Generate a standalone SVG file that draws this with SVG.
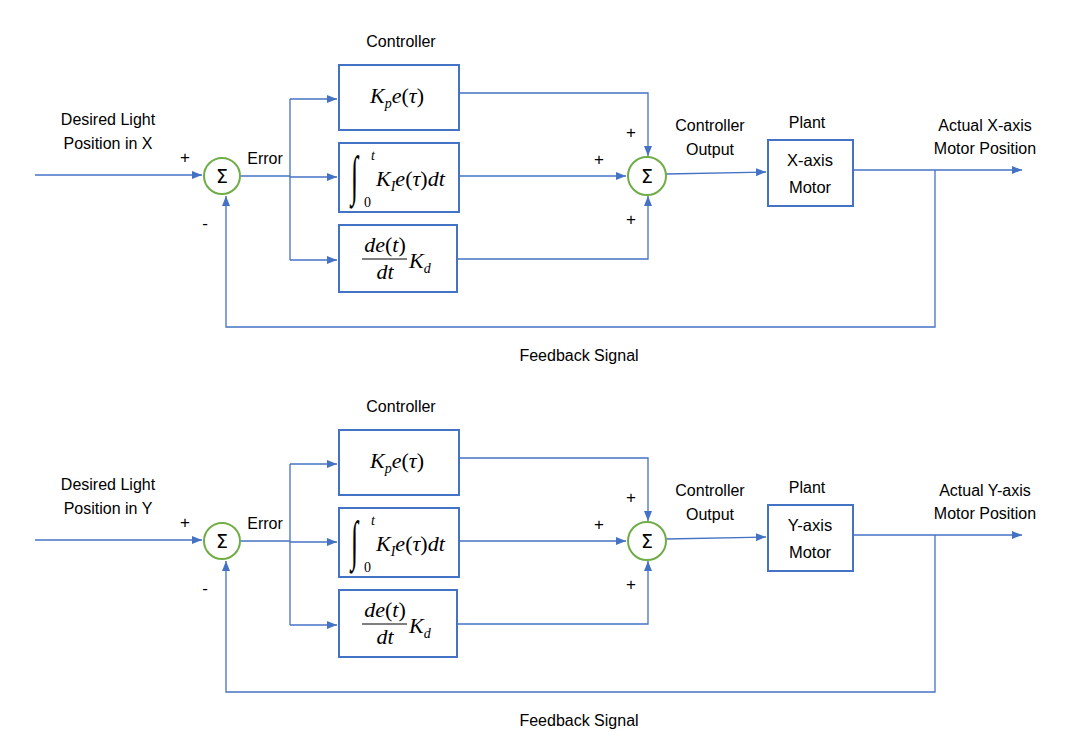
<svg xmlns="http://www.w3.org/2000/svg" width="1074" height="733" viewBox="0 0 1074 733">
<defs>
<marker id="ah" markerWidth="10" markerHeight="8" refX="10" refY="4" orient="auto" markerUnits="userSpaceOnUse">
<path d="M0,0 L10,4 L0,8 Z" fill="#4472C4"/>
</marker>
<style>
.ln{fill:none;stroke:#4472C4;stroke-width:1.3}
.bx{fill:#fff;stroke:#4472C4;stroke-width:2}
.sm{fill:#fff;stroke:#70AD47;stroke-width:2}
.t{font-family:"Liberation Sans","Open Sans",sans-serif;font-size:16px;fill:#000;text-anchor:middle}
.pl{font-family:"Liberation Sans",sans-serif;font-size:17px;fill:#000;text-anchor:middle}
.tb{font-family:"Liberation Sans","Open Sans",sans-serif;font-size:16.5px;fill:#000;text-anchor:middle}
.sg{font-family:"DejaVu Sans",sans-serif;font-size:19px;fill:#000;text-anchor:middle}
.m{font-family:"Liberation Serif",serif;font-style:italic;font-size:22px;fill:#000}
.mu{font-style:normal}
.ms{font-family:"Liberation Serif",serif;font-style:italic;font-size:14px;fill:#000}
.z{font-family:"Liberation Serif",serif;font-style:normal;font-size:14px;fill:#000}
.ig{font-family:"Liberation Serif",serif;font-style:italic;font-size:26px;fill:#000}
</style>
</defs>
<rect width="1074" height="733" fill="#fff"/>

<g id="x-loop">
<g id="x-connectors">
<path class="ln" d="M35,175 H202" marker-end="url(#ah)"/>
<path class="ln" d="M240,176 H290"/>
<path class="ln" d="M290,99 V260"/>
<path class="ln" d="M290,99 H337" marker-end="url(#ah)"/>
<path class="ln" d="M290,177 H337" marker-end="url(#ah)"/>
<path class="ln" d="M290,260 H337" marker-end="url(#ah)"/>
<path class="ln" d="M459,93 H648 V156" marker-end="url(#ah)"/>
<path class="ln" d="M459,176 H626" marker-end="url(#ah)"/>
<path class="ln" d="M457,259 H648 V196" marker-end="url(#ah)"/>
<path class="ln" d="M666,174 L766,172" marker-end="url(#ah)"/>
<path class="ln" d="M853,170 H1022" marker-end="url(#ah)"/>
<path class="ln" d="M935,170 V327 H226 V196" marker-end="url(#ah)"/>
</g>
<g id="x-sum1"><circle class="sm" cx="222" cy="176" r="18"/><text class="sg" x="222" y="183">Σ</text></g>
<g id="x-p"><rect class="bx" x="339" y="65" width="120" height="65"/>
<text class="m" x="370" y="103">K<tspan class="ms" dy="5">p</tspan><tspan dy="-5">e</tspan><tspan class="mu">(</tspan>τ<tspan class="mu">)</tspan></text></g>
<g id="x-i"><rect class="bx" x="339" y="143" width="120" height="69"/>
<text class="ig" transform="translate(351,194) scale(1,2.1)">∫</text>
<text class="ms" x="371" y="160">t</text>
<text class="z" x="364" y="207">0</text>
<text class="m" x="376" y="186">K<tspan class="ms" dy="5">I</tspan><tspan dy="-5">e</tspan><tspan class="mu">(</tspan>τ<tspan class="mu">)</tspan>dt</text></g>
<g id="x-d"><rect class="bx" x="339" y="225" width="118" height="67"/>
<text class="m" x="385" y="252" text-anchor="middle">de<tspan class="mu">(</tspan>t<tspan class="mu">)</tspan></text>
<line x1="362" y1="259" x2="407" y2="259" stroke="#000" stroke-width="1"/>
<text class="m" x="385" y="279" text-anchor="middle">dt</text>
<text class="m" x="409" y="268">K<tspan class="ms" dy="5">d</tspan></text></g>
<g id="x-sum2"><circle class="sm" cx="647" cy="176" r="19"/><text class="sg" x="647" y="183">Σ</text></g>
<g id="x-plant"><rect class="bx" x="768" y="140" width="85" height="66"/>
<text class="tb" x="810" y="166">X-axis</text><text class="tb" x="810" y="193">Motor</text></g>
<g id="x-labels">
<text class="t" x="108" y="125">Desired Light</text>
<text class="t" x="108" y="149">Position in X</text>
<text class="t" x="401" y="47">Controller</text>
<text class="pl" x="185" y="163">+</text>
<text class="pl" x="205" y="229">-</text>
<text class="t" x="265" y="164">Error</text>
<text class="pl" x="631" y="138">+</text>
<text class="pl" x="599" y="165">+</text>
<text class="pl" x="631" y="225">+</text>
<text class="t" x="710" y="131">Controller</text>
<text class="t" x="710" y="155">Output</text>
<text class="t" x="807" y="128">Plant</text>
<text class="t" x="985" y="131">Actual X-axis</text>
<text class="t" x="985" y="154">Motor Position</text>
<text class="t" x="579" y="361">Feedback Signal</text>
</g>
</g>

<g id="y-loop" transform="translate(0,365)">
<g id="y-connectors">
<path class="ln" d="M35,175 H202" marker-end="url(#ah)"/>
<path class="ln" d="M240,176 H290"/>
<path class="ln" d="M290,99 V260"/>
<path class="ln" d="M290,99 H337" marker-end="url(#ah)"/>
<path class="ln" d="M290,177 H337" marker-end="url(#ah)"/>
<path class="ln" d="M290,260 H337" marker-end="url(#ah)"/>
<path class="ln" d="M459,93 H648 V156" marker-end="url(#ah)"/>
<path class="ln" d="M459,176 H626" marker-end="url(#ah)"/>
<path class="ln" d="M457,259 H648 V196" marker-end="url(#ah)"/>
<path class="ln" d="M666,174 L766,172" marker-end="url(#ah)"/>
<path class="ln" d="M853,170 H1022" marker-end="url(#ah)"/>
<path class="ln" d="M935,170 V327 H226 V196" marker-end="url(#ah)"/>
</g>
<g id="y-sum1"><circle class="sm" cx="222" cy="176" r="18"/><text class="sg" x="222" y="183">Σ</text></g>
<g id="y-p"><rect class="bx" x="339" y="65" width="120" height="65"/>
<text class="m" x="370" y="103">K<tspan class="ms" dy="5">p</tspan><tspan dy="-5">e</tspan><tspan class="mu">(</tspan>τ<tspan class="mu">)</tspan></text></g>
<g id="y-i"><rect class="bx" x="339" y="143" width="120" height="69"/>
<text class="ig" transform="translate(351,194) scale(1,2.1)">∫</text>
<text class="ms" x="371" y="160">t</text>
<text class="z" x="364" y="207">0</text>
<text class="m" x="376" y="186">K<tspan class="ms" dy="5">I</tspan><tspan dy="-5">e</tspan><tspan class="mu">(</tspan>τ<tspan class="mu">)</tspan>dt</text></g>
<g id="y-d"><rect class="bx" x="339" y="225" width="118" height="67"/>
<text class="m" x="385" y="252" text-anchor="middle">de<tspan class="mu">(</tspan>t<tspan class="mu">)</tspan></text>
<line x1="362" y1="259" x2="407" y2="259" stroke="#000" stroke-width="1"/>
<text class="m" x="385" y="279" text-anchor="middle">dt</text>
<text class="m" x="409" y="268">K<tspan class="ms" dy="5">d</tspan></text></g>
<g id="y-sum2"><circle class="sm" cx="647" cy="176" r="19"/><text class="sg" x="647" y="183">Σ</text></g>
<g id="y-plant"><rect class="bx" x="768" y="140" width="85" height="66"/>
<text class="tb" x="810" y="166">Y-axis</text><text class="tb" x="810" y="193">Motor</text></g>
<g id="y-labels">
<text class="t" x="108" y="125">Desired Light</text>
<text class="t" x="108" y="149">Position in Y</text>
<text class="t" x="401" y="47">Controller</text>
<text class="pl" x="185" y="163">+</text>
<text class="pl" x="205" y="229">-</text>
<text class="t" x="265" y="164">Error</text>
<text class="pl" x="631" y="138">+</text>
<text class="pl" x="599" y="165">+</text>
<text class="pl" x="631" y="225">+</text>
<text class="t" x="710" y="131">Controller</text>
<text class="t" x="710" y="155">Output</text>
<text class="t" x="807" y="128">Plant</text>
<text class="t" x="985" y="131">Actual Y-axis</text>
<text class="t" x="985" y="154">Motor Position</text>
<text class="t" x="579" y="361">Feedback Signal</text>
</g>
</g>
</svg>
